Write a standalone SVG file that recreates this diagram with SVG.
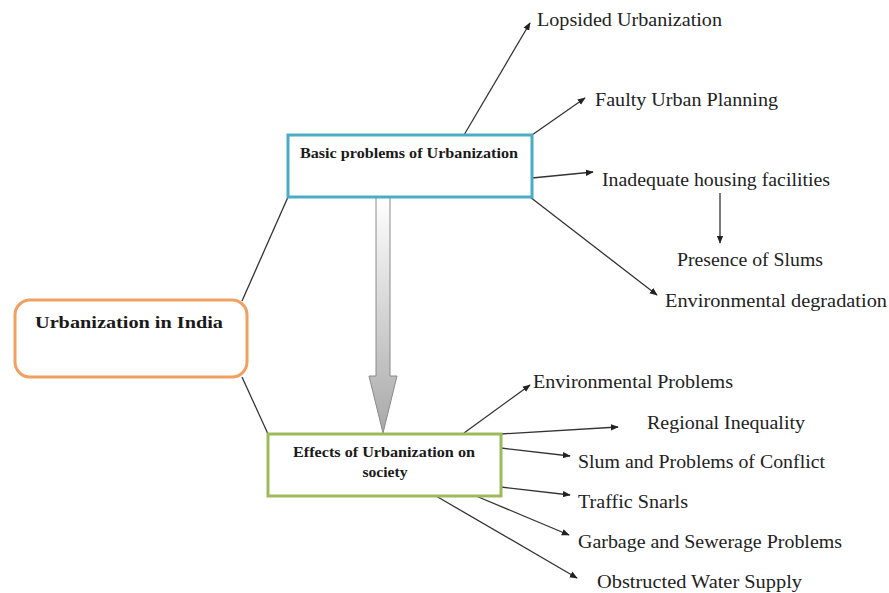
<svg xmlns="http://www.w3.org/2000/svg" width="889" height="593" viewBox="0 0 889 593">
<defs>
<style>
.lbl{font-family:"Liberation Serif","Times New Roman",Times,serif;font-size:18px;fill:#222}
.bold{font-family:"Liberation Serif","Times New Roman",Times,serif;font-weight:bold;fill:#1a1a1a}
.con{stroke:#333;stroke-width:1.3;fill:none}
.arr{stroke:#333;stroke-width:1.3;fill:none;marker-end:url(#ah)}
</style>
<marker id="ah" viewBox="0 0 10 10" refX="9" refY="5" markerWidth="8" markerHeight="8" markerUnits="userSpaceOnUse" orient="auto">
<path d="M0,1 L10,5 L0,9 Z" fill="#222"/>
</marker>
<linearGradient id="sg" x1="0" y1="0" x2="0" y2="1">
<stop offset="0" stop-color="#ffffff"/>
<stop offset="1" stop-color="#a8a8a8"/>
</linearGradient>
</defs>
<rect width="889" height="593" fill="#fff"/>
<g id="connectors">
<line class="con" x1="242" y1="301" x2="288" y2="197"/>
<line class="con" x1="242" y1="377" x2="268" y2="434"/>
<line class="arr" x1="464" y1="135" x2="530" y2="23"/>
<line class="arr" x1="532" y1="135" x2="585" y2="98"/>
<line class="arr" x1="532" y1="178" x2="593" y2="172"/>
<line class="arr" x1="720" y1="193" x2="720" y2="243"/>
<line class="arr" x1="530" y1="197" x2="657" y2="295"/>
<line class="arr" x1="464" y1="433" x2="530" y2="385"/>
<line class="arr" x1="501" y1="434" x2="618" y2="427"/>
<line class="arr" x1="501" y1="448" x2="570" y2="456"/>
<line class="arr" x1="501" y1="487" x2="570" y2="495"/>
<line class="arr" x1="476" y1="496" x2="569" y2="535"/>
<line class="arr" x1="436" y1="496" x2="577" y2="578"/>
<path d="M376,197 L390,197 L390,376 L397,376 L383,433 L369,376 L376,376 Z" fill="url(#sg)" stroke="#8a8a8a" stroke-width="1"/>
</g>
<g id="urbanization-india">
<rect x="15" y="300" width="232" height="77" rx="15" ry="15" fill="#fff" stroke="#F0A060" stroke-width="3"/>
<text class="bold" x="129" y="328" font-size="17" text-anchor="middle" textLength="188" lengthAdjust="spacingAndGlyphs">Urbanization in India</text>
</g>
<g id="basic-problems">
<rect x="288" y="135" width="244" height="62" fill="#fff" stroke="#4BACC6" stroke-width="3"/>
<text class="bold" x="409" y="158" font-size="14" text-anchor="middle" textLength="218" lengthAdjust="spacingAndGlyphs">Basic problems of Urbanization</text>
</g>
<g id="effects">
<rect x="268" y="434" width="233" height="62" fill="#fff" stroke="#9BBB59" stroke-width="3"/>
<text class="bold" x="384" y="457" font-size="14" text-anchor="middle" textLength="182" lengthAdjust="spacingAndGlyphs">Effects of Urbanization on</text>
<text class="bold" x="385" y="477" font-size="14" text-anchor="middle" textLength="45" lengthAdjust="spacingAndGlyphs">society</text>
</g>
<g id="lopsided"><text class="lbl" x="537" y="26" textLength="185" lengthAdjust="spacingAndGlyphs">Lopsided Urbanization</text></g>
<g id="faulty"><text class="lbl" x="595" y="106" textLength="183" lengthAdjust="spacingAndGlyphs">Faulty Urban Planning</text></g>
<g id="inadequate"><text class="lbl" x="602" y="186" textLength="228" lengthAdjust="spacingAndGlyphs">Inadequate housing facilities</text></g>
<g id="slums"><text class="lbl" x="677" y="266" textLength="146" lengthAdjust="spacingAndGlyphs">Presence of Slums</text></g>
<g id="env-degradation"><text class="lbl" x="665" y="307" textLength="222" lengthAdjust="spacingAndGlyphs">Environmental degradation</text></g>
<g id="env-problems"><text class="lbl" x="533" y="388" textLength="200" lengthAdjust="spacingAndGlyphs">Environmental Problems</text></g>
<g id="regional"><text class="lbl" x="647" y="429" textLength="158" lengthAdjust="spacingAndGlyphs">Regional Inequality</text></g>
<g id="slum-conflict"><text class="lbl" x="578" y="468" textLength="247" lengthAdjust="spacingAndGlyphs">Slum and Problems of Conflict</text></g>
<g id="traffic"><text class="lbl" x="578" y="508" textLength="110" lengthAdjust="spacingAndGlyphs">Traffic Snarls</text></g>
<g id="garbage"><text class="lbl" x="578" y="548" textLength="264" lengthAdjust="spacingAndGlyphs">Garbage and Sewerage Problems</text></g>
<g id="water"><text class="lbl" x="597" y="588" textLength="205" lengthAdjust="spacingAndGlyphs">Obstructed Water Supply</text></g>
</svg>
